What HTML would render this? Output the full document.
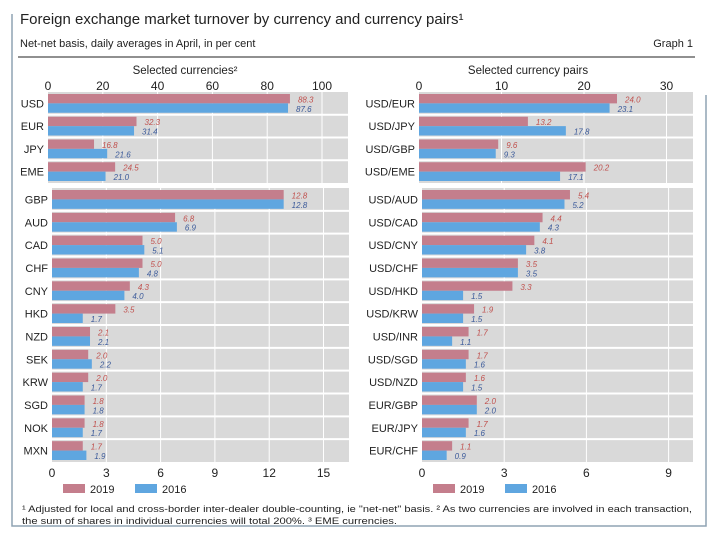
<!DOCTYPE html>
<html><head><meta charset="utf-8"><style>
body{margin:0;background:#fff;}
svg{display:block;font-family:"Liberation Sans",sans-serif;}
</style></head><body>
<svg id="c" width="720" height="540"></svg>
<script>
const curCatsTop=["USD","EUR","JPY","EME"];
const cur2019Top=[88.3,32.3,16.8,24.5];
const cur2016Top=[87.6,31.4,21.6,21.0];
const curTicksTop=[0,20,40,60,80,100];
const curCatsBot=["GBP","AUD","CAD","CHF","CNY","HKD","NZD","SEK","KRW","SGD","NOK","MXN"];
const cur2019Bot=[12.8,6.8,5.0,5.0,4.3,3.5,2.1,2.0,2.0,1.8,1.8,1.7];
const cur2016Bot=[12.8,6.9,5.1,4.8,4.0,1.7,2.1,2.2,1.7,1.8,1.7,1.9];
const curTicksBot=[0,3,6,9,12,15];
const pairCatsTop=["USD/EUR","USD/JPY","USD/GBP","USD/EME"];
const pair2019Top=[24.0,13.2,9.6,20.2];
const pair2016Top=[23.1,17.8,9.3,17.1];
const pairTicksTop=[0,10,20,30];
const pairCatsBot=["USD/AUD","USD/CAD","USD/CNY","USD/CHF","USD/HKD","USD/KRW","USD/INR","USD/SGD","USD/NZD","EUR/GBP","EUR/JPY","EUR/CHF"];
const pair2019Bot=[5.4,4.4,4.1,3.5,3.3,1.9,1.7,1.7,1.6,2.0,1.7,1.1];
const pair2016Bot=[5.2,4.3,3.8,3.5,1.5,1.5,1.1,1.6,1.5,2.0,1.6,0.9];
const pairTicksBot=[0,3,6,9];

const svg=document.getElementById('c');
const NS='http://www.w3.org/2000/svg';
function mk(t,a,txt,name){const e=document.createElementNS(NS,t);for(const k in a)e.setAttribute(k,a[k]);if(txt!==undefined)e.textContent=txt;


svg.appendChild(e);return e;}

function panel(o){
  const sx=v=>o.x0+(v-o.vmin)*o.k;
  const rh=(o.y1-o.y0)/o.cats.length;
  mk('rect',{x:o.x0,y:o.y0,width:o.xr-o.x0,height:o.y1-o.y0,fill:'#d9d9d9'},undefined,o.id+'-plot-bg');
  o.ticks.forEach(t=>{ if(t>o.vmin) mk('line',{x1:sx(t),x2:sx(t),y1:o.y0,y2:o.y1,stroke:'#fff','stroke-width':1},undefined,o.id+'-gridline');
    mk('text',{x:sx(t),y:o.ty,'text-anchor':'middle','font-size':12,fill:'#222'},String(t),o.id+'-tick-label');});
  const bh=(rh-4)/2;
  o.cats.forEach((c,i)=>{
    const ry=o.y0+i*rh;
    if(i>0) mk('line',{x1:o.x0,x2:o.xr,y1:ry,y2:ry,stroke:'#fff','stroke-width':2},undefined,o.id+'-row-sep');
    mk('text',{x:o.x0-4,y:ry+rh/2+4,'text-anchor':'end','font-size':11,fill:'#222'},c,o.id+'-category-label');
    const a=o.s19[i],b=o.s16[i];
    mk('rect',{x:o.x0,y:ry+2,width:sx(a)-o.x0,height:bh,fill:'#c47e8c'},undefined,o.id+'-bar-2019');
    mk('rect',{x:o.x0,y:ry+2+bh,width:sx(b)-o.x0,height:bh,fill:'#5fa6e0'},undefined,o.id+'-bar-2016');
    mk('text',{x:sx(a)+8,y:ry+2+bh-1,'font-size':8,'font-style':'italic',fill:'#c0504d'},a.toFixed(1),o.id+'-value-2019');
    mk('text',{x:sx(b)+8,y:ry+2+2*bh-1,'font-size':8,'font-style':'italic',fill:'#3b5a9a'},b.toFixed(1),o.id+'-value-2016');
  });
}
mk('path',{d:'M12 14 V526 H706 V95',fill:'none',stroke:'#8fa3b3','stroke-width':1.5},undefined,'outer-frame');
mk('text',{x:20,y:24,'font-size':15,fill:'#222'},'Foreign exchange market turnover by currency and currency pairs¹','chart-title');
mk('text',{x:20,y:47,'font-size':11,fill:'#222'},'Net-net basis, daily averages in April, in per cent','chart-subtitle');
mk('text',{x:693,y:47,'font-size':11,'text-anchor':'end',fill:'#222'},'Graph 1','graph-number');
mk('line',{x1:18,x2:695,y1:57,y2:57,stroke:'#222','stroke-width':1},undefined,'header-rule');
mk('text',{x:185,y:74,'font-size':11.5,'text-anchor':'middle',fill:'#222'},'Selected currencies²','left-panel-title');
mk('text',{x:528,y:74,'font-size':11.5,'text-anchor':'middle',fill:'#222'},'Selected currency pairs','right-panel-title');

panel({id:'cur-top',cats:curCatsTop,s19:cur2019Top,s16:cur2016Top,ticks:curTicksTop,vmin:0,k:2.74,x0:48,xr:348,y0:92,y1:183,ty:90});
panel({id:'cur-bot',cats:curCatsBot,s19:cur2019Bot,s16:cur2016Bot,ticks:curTicksBot,vmin:0,k:18.1,x0:52,xr:349,y0:188,y1:462,ty:477});
panel({id:'pair-top',cats:pairCatsTop,s19:pair2019Top,s16:pair2016Top,ticks:pairTicksTop,vmin:0,k:8.25,x0:419,xr:693,y0:92,y1:183,ty:90});
panel({id:'pair-bot',cats:pairCatsBot,s19:pair2019Bot,s16:pair2016Bot,ticks:pairTicksBot,vmin:0,k:27.4,x0:422,xr:693,y0:188,y1:462,ty:477});

[[63,'#c47e8c','2019'],[135,'#5fa6e0','2016'],[433,'#c47e8c','2019'],[505,'#5fa6e0','2016']].forEach(l=>{
  mk('rect',{x:l[0],y:484,width:22,height:9,fill:l[1]},undefined,'legend-swatch-'+l[2]);
  mk('text',{x:l[0]+27,y:493,'font-size':11,fill:'#222'},l[2],'legend-label-'+l[2]);
});
mk('text',{x:22,y:512,'font-size':9.5,fill:'#222',textLength:670,lengthAdjust:'spacingAndGlyphs'},'¹  Adjusted for local and cross-border inter-dealer double-counting, ie "net-net" basis.     ²  As two currencies are involved in each transaction,','footnote-line-1');
mk('text',{x:22,y:524,'font-size':9.5,fill:'#222',textLength:375,lengthAdjust:'spacingAndGlyphs'},'the sum of shares in individual currencies will total 200%.    ³  EME currencies.','footnote-line-2');
</script>
</body></html>
